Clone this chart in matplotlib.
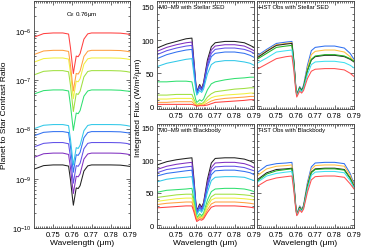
import matplotlib
matplotlib.use('Agg')
import matplotlib.pyplot as plt
from matplotlib.ticker import MultipleLocator, LogLocator, NullFormatter, FixedLocator
import numpy as np

plt.rcParams['font.family'] = ['Liberation Sans', 'DejaVu Sans']
plt.rcParams['mathtext.fontset'] = 'custom'
plt.rcParams['mathtext.rm'] = 'Liberation Sans'
plt.rcParams['mathtext.it'] = 'Liberation Sans:italic'
plt.rcParams['mathtext.bf'] = 'Liberation Sans:bold'

# ---------------- data ----------------
wavelength = [0.740, 0.745, 0.750, 0.755, 0.758, 0.759, 0.760, 0.7605, 0.761, 0.762,
              0.763, 0.764, 0.766, 0.768, 0.770, 0.775, 0.780, 0.785, 0.788, 0.790]

m_types = ['M0', 'M1', 'M2', 'M3', 'M4', 'M5', 'M6', 'M7', 'M8', 'M9']
m_colors = ['#222222', '#8030c0', '#6050e8', '#3070f0', '#30c8e8',
            '#30e070', '#a0e040', '#f0f040', '#ffa040', '#ff4040']

# planet-to-star contrast ratio, units of 1e-9
contrast_1e9 = [
    [1.56, 1.84, 1.9, 1.9, 1.8, 0.95, 0.42, 0.29, 0.38, 0.65, 0.63, 0.72, 1.43, 1.82, 1.9, 1.9, 1.9, 1.88, 1.82, 1.77],
    [2.7, 3.2, 3.3, 3.3, 3.1, 1.65, 0.73, 0.5, 0.66, 1.12, 1.09, 1.25, 2.5, 3.17, 3.3, 3.3, 3.3, 3.27, 3.17, 3.07],
    [4.4, 5.2, 5.4, 5.4, 5.1, 2.7, 1.19, 0.81, 1.08, 1.84, 1.78, 2.05, 4.05, 5.2, 5.4, 5.4, 5.4, 5.35, 5.2, 5.0],
    [7.4, 8.7, 9.0, 9.0, 8.6, 4.5, 2.0, 1.35, 1.8, 3.06, 2.97, 3.42, 6.75, 8.6, 9.0, 9.0, 9.0, 8.9, 8.6, 8.4],
    [10.3, 12.1, 12.5, 12.5, 11.9, 6.3, 2.75, 1.9, 2.5, 4.25, 4.1, 4.75, 9.4, 12.0, 12.5, 12.5, 12.5, 12.4, 12.0, 11.6],
    [52, 61, 63, 63, 60, 31, 13.9, 9.5, 12.6, 21.4, 20.8, 24, 47, 60, 63, 63, 63, 62, 60, 59],
    [127, 150, 155, 155, 147, 78, 34, 23, 31, 53, 51, 59, 116, 149, 155, 155, 155, 153, 149, 144],
    [230, 272, 280, 280, 266, 140, 62, 42, 56, 95, 92, 106, 210, 269, 280, 280, 280, 277, 269, 260],
    [328, 388, 400, 400, 380, 200, 88, 60, 80, 136, 132, 152, 300, 384, 400, 400, 400, 396, 384, 372],
    [738, 873, 900, 900, 855, 450, 198, 135, 180, 306, 297, 342, 675, 864, 900, 900, 900, 891, 864, 837],
]

# integrated flux, M0-M9 with stellar SED (W/m2/um)
flux_sed = [
    [88, 94, 98, 102, 103, 70, 35, 22, 26, 33, 27, 36, 70, 90, 96, 98, 98, 96, 92, 89],
    [83, 89, 93, 96, 97, 66, 33, 21, 24, 31, 26, 34, 66, 85, 91, 93, 93, 91, 87, 84],
    [78, 84, 88, 91, 92, 62, 31, 20, 23, 30, 25, 32, 62, 80, 86, 88, 88, 86, 83, 80],
    [72, 78, 82, 85, 86, 58, 29, 19, 22, 28, 24, 30, 58, 75, 80, 82, 82, 80, 77, 74],
    [60, 65, 68, 71, 72, 49, 25, 17, 19, 24, 21, 26, 49, 63, 67, 69, 69, 67, 65, 62],
    [37, 37, 38, 38, 37, 22, 10, 6, 7, 10, 8, 11, 25, 34, 37, 40, 42, 43, 44, 44],
    [17, 17, 18, 18, 18, 11, 5, 3, 3, 5, 4, 6, 14, 19, 22, 24, 26, 27, 28, 28],
    [11, 11, 12, 12, 12, 7, 3, 2, 2, 3, 3, 4, 9, 13, 15, 17, 18, 19, 20, 20],
    [6, 6, 7, 7, 7, 4, 2, 1, 1, 2, 2, 2, 5, 8, 10, 12, 13, 14, 15, 15],
    [3, 3, 3, 3, 3, 2, 1, 0.5, 0.5, 1, 1, 1, 2, 4, 6, 7, 8, 9, 10, 10],
]

# integrated flux, M0-M9 with blackbody
flux_bb = [
    [93, 98, 101, 103, 104, 73, 36, 23, 26, 33, 28, 35, 71, 96, 103, 104, 104, 102, 99, 96],
    [86, 91, 94, 96, 97, 68, 34, 21, 24, 31, 26, 33, 66, 89, 96, 97, 97, 95, 92, 89],
    [81, 86, 88, 90, 91, 64, 32, 20, 23, 29, 25, 31, 62, 84, 90, 91, 91, 89, 86, 84],
    [76, 80, 82, 84, 85, 60, 30, 19, 21, 27, 23, 29, 58, 78, 84, 85, 85, 83, 81, 78],
    [67, 71, 73, 74, 75, 53, 26, 16, 19, 24, 20, 26, 51, 69, 74, 75, 75, 74, 71, 69],
    [51, 54, 55, 56, 57, 40, 20, 12, 14, 18, 15, 19, 39, 52, 56, 57, 57, 56, 54, 52],
    [43, 45, 47, 48, 48, 34, 17, 10, 12, 15, 13, 16, 33, 44, 48, 48, 48, 47, 46, 44],
    [37, 39, 41, 42, 42, 29, 15, 9, 10, 13, 11, 14, 29, 39, 42, 42, 42, 41, 40, 39],
    [32, 34, 35, 36, 36, 25, 13, 8, 9, 12, 10, 12, 24, 33, 36, 36, 36, 35, 34, 33],
    [27, 28, 29, 30, 30, 21, 10, 6, 7, 9, 8, 10, 20, 28, 30, 30, 30, 29, 28, 27],
]

hst_colors = ['#3070f0', '#ffc040', '#222222', '#20b020', '#40e0f0', '#ff5050']

# HST observed stars, stellar SED
hst_sed = [
    [76, 86, 95, 97, 98, 70, 30, 18, 22, 30, 25, 32, 62, 84, 89, 91, 91, 88, 80, 71],
    [74, 84, 93, 95, 96, 68, 29, 18, 21, 29, 24, 30, 58, 78, 83, 85, 85, 82, 75, 68],
    [73, 83, 92, 94, 95, 67, 28, 17, 21, 28, 24, 29, 54, 70, 75, 77, 77, 75, 71, 67],
    [71, 80, 89, 91, 92, 65, 28, 17, 20, 28, 23, 29, 54, 71, 76, 78, 78, 76, 72, 68],
    [65, 73, 82, 84, 85, 60, 26, 16, 19, 26, 22, 27, 48, 63, 67, 68, 68, 66, 62, 58],
    [56, 64, 72, 75, 76, 54, 23, 14, 17, 23, 20, 24, 42, 53, 56, 57, 57, 55, 50, 45],
]

# HST observed stars, blackbody
hst_bb = [
    [81, 92, 95, 96, 97, 68, 30, 19, 22, 30, 25, 31, 66, 90, 96, 97, 97, 95, 80, 64],
    [76, 87, 91, 92, 93, 65, 29, 18, 21, 29, 24, 30, 63, 86, 92, 93, 93, 91, 77, 62],
    [70, 81, 86, 87, 88, 62, 28, 17, 20, 28, 23, 29, 60, 82, 87, 88, 88, 86, 73, 60],
    [68, 79, 84, 86, 87, 61, 27, 17, 20, 27, 23, 28, 59, 81, 86, 87, 87, 85, 72, 59],
    [66, 76, 80, 82, 83, 58, 26, 16, 19, 26, 22, 27, 56, 77, 82, 83, 83, 81, 69, 58],
    [60, 69, 73, 75, 76, 53, 24, 15, 17, 24, 20, 25, 51, 70, 75, 76, 76, 74, 64, 56],
]

xticks = [0.75, 0.76, 0.77, 0.78, 0.79]
xticklabels = ['0.75', '0.76', '0.77', '0.78', '0.79']
flux_ticks = [0, 50, 100, 150]

# ---------------- figure ----------------
W, H = 365, 253
fig = plt.figure(figsize=(W / 100, H / 100), dpi=100)


def px_axes(x0, y0, x1, y1):
    return fig.add_axes([x0 / W, 1 - y1 / H, (x1 - x0) / W, (y1 - y0) / H])


TS = 5.5


def style(ax):
    ax.set_xlim(0.74, 0.79)
    ax.xaxis.set_major_locator(FixedLocator(xticks))
    ax.set_xticklabels(xticklabels)
    ax.xaxis.set_minor_locator(MultipleLocator(0.001))
    ax.tick_params(which='both', direction='in', top=True, right=True,
                   labelsize=TS, width=0.5, pad=2, colors='#333333', labelcolor='black')
    ax.tick_params(which='major', length=3)
    ax.tick_params(which='minor', length=1.5)
    for s in ax.spines.values():
        s.set_linewidth(0.6)
        s.set_color('#444444')


LW = 0.75
wl = np.array(wavelength)

# left panel
axL = px_axes(34, 2, 130, 229)
for vals, c in zip(contrast_1e9, m_colors):
    axL.plot(wl, np.array(vals) * 1e-9, color=c, lw=LW)
axL.set_yscale('log')
axL.set_ylim(1e-10, 4e-6)
style(axL)
axL.yaxis.set_major_locator(LogLocator(base=10, numticks=20))
axL.yaxis.set_minor_locator(LogLocator(base=10, subs=np.arange(2, 10), numticks=20))
axL.yaxis.set_minor_formatter(NullFormatter())
axL.set_ylabel('Planet to Star Contrast Ratio', fontsize=6, labelpad=3)
axL.set_xlabel('Wavelength (μm)', fontsize=6, labelpad=1)
axL.text(0.5, 0.965, 'O$_2$ 0.76μm', transform=axL.transAxes, ha='center', va='top', fontsize=4.5)


def flux_panel(box, data, colors, label, ylabels=True, xlabel=False, ylim=(-4, 158)):
    ax = px_axes(*box)
    for vals, c in zip(data, colors):
        ax.plot(wl, vals, color=c, lw=LW)
    style(ax)
    ax.set_ylim(*ylim)
    ax.yaxis.set_major_locator(FixedLocator(flux_ticks))
    ax.yaxis.set_minor_locator(MultipleLocator(10))
    if not ylabels:
        ax.set_yticklabels([])
    if xlabel:
        ax.set_xlabel('Wavelength (μm)', fontsize=6, labelpad=1)
    ax.text(0.025, 0.975, label, transform=ax.transAxes, ha='left', va='top', fontsize=4.3)
    return ax


flux_panel((157, 2, 254, 110), flux_sed, m_colors, 'M0–M9 with Stellar SED', ylim=(-4, 159))
flux_panel((157, 125, 254, 229), flux_bb, m_colors, 'M0–M9 with Blackbody', xlabel=True, ylim=(-4, 156))
flux_panel((257, 2, 354, 110), hst_sed, hst_colors, 'HST Obs with Stellar SED', ylabels=False, ylim=(-4, 159))
flux_panel((257, 125, 354, 229), hst_bb, hst_colors, 'HST Obs with Blackbody', ylabels=False, xlabel=True, ylim=(-4, 156))

fig.text(138 / W, 1 - 108 / H, 'Integrated Flux (W/m²/μm)', rotation=90,
         ha='center', va='center', fontsize=6)

fig.savefig('out.png', dpi=100)
